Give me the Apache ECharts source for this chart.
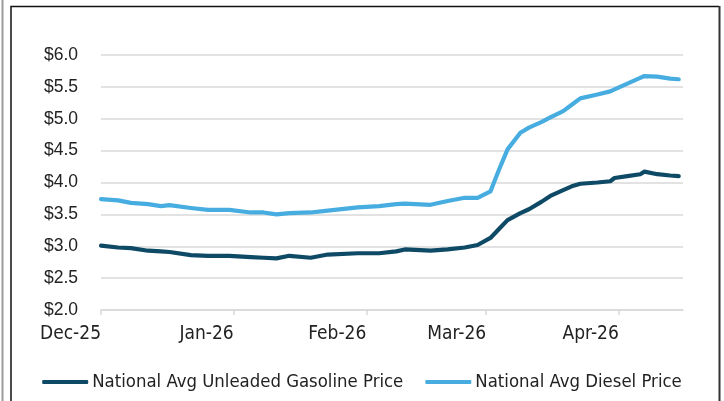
<!DOCTYPE html>
<html>
<head>
<meta charset="utf-8">
<script src="https://cdn.jsdelivr.net/npm/echarts@6/dist/echarts.min.js"></script>
<style>html,body{margin:0;padding:0;background:#fff;}#c{width:724px;height:401px;}</style>
</head>
<body>
<div id="c"></div>
<script>
const dates = ['2025-12-01','2025-12-05','2025-12-08','2025-12-12','2025-12-15','2025-12-17','2025-12-22','2025-12-26','2025-12-31',
  '2026-01-05','2026-01-08','2026-01-11','2026-01-14','2026-01-19','2026-01-23','2026-01-30',
  '2026-02-04','2026-02-08','2026-02-10','2026-02-16','2026-02-20','2026-02-24','2026-02-27',
  '2026-03-02','2026-03-04','2026-03-06','2026-03-09','2026-03-11','2026-03-14','2026-03-16','2026-03-19','2026-03-21','2026-03-23','2026-03-27','2026-03-30','2026-03-31',
  '2026-04-03','2026-04-06','2026-04-07','2026-04-10','2026-04-13','2026-04-15'];
const gasoline = [3.01,2.98,2.97,2.93,2.92,2.91,2.86,2.85,2.85,
  2.83,2.82,2.81,2.85,2.82,2.87,2.89,
  2.89,2.92,2.95,2.93,2.95,2.98,3.02,
  3.13,3.27,3.41,3.52,3.58,3.70,3.79,3.88,3.94,3.98,4.00,4.02,4.07,
  4.10,4.13,4.17,4.13,4.11,4.10];
const diesel = [3.74,3.72,3.68,3.66,3.63,3.645,3.60,3.57,3.57,
  3.53,3.53,3.50,3.52,3.53,3.56,3.61,
  3.63,3.66,3.67,3.65,3.71,3.76,3.76,
  3.86,4.20,4.52,4.78,4.86,4.95,5.02,5.12,5.22,5.32,5.38,5.43,5.46,
  5.55,5.64,5.67,5.66,5.63,5.62];
const monthTicks = ['2025-12-01','2026-01-01','2026-02-01','2026-03-01','2026-04-01'];
const monthLabels = ['Dec-25','Jan-26','Feb-26','Mar-26','Apr-26'];
const seriesNames = ['National Avg Unleaded Gasoline Price','National Avg Diesel Price'];

const DAY = 86400000;
const ts = s => { const p = s.split('-').map(Number); return Date.UTC(p[0], p[1]-1, p[2]); };
const base = ts('2025-12-01');
const dayOf = s => Math.round((ts(s) - base) / DAY);
const tickDays = monthTicks.map(dayOf);
const narrow = '"Liberation Sans Narrow","DejaVu Sans Condensed",sans-serif';

const chart = echarts.init(document.getElementById('c'), null, {renderer:'canvas'});
chart.setOption({
  animation: false,
  grid: {left: 101, right: 41, top: 55, bottom: 91, containLabel: false},
  xAxis: {
    type: 'value',
    min: 0,
    max: dayOf('2026-04-16'),
    axisLine: {show: true, lineStyle: {color: '#D9D9D9', width: 1.5}},
    axisTick: {show: true, length: 5, lineStyle: {color: '#D9D9D9', width: 1.5}, customValues: tickDays},
    splitLine: {show: false},
    axisLabel: {
      customValues: tickDays,
      align: 'right',
      margin: 15,
      color: '#222',
      fontFamily: narrow,
      fontSize: 19,
      formatter: v => { const i = tickDays.indexOf(Math.round(v)); return i >= 0 ? monthLabels[i] : ''; }
    }
  },
  yAxis: {
    type: 'value',
    min: 2, max: 6, interval: 0.5,
    axisLine: {show: false},
    axisTick: {show: false},
    splitLine: {lineStyle: {color: '#D9D9D9', width: 1.5}},
    axisLabel: {margin: 23, color: '#222', fontFamily: '"Liberation Sans",Arial,sans-serif', fontSize: 17.5,
      formatter: v => '$' + v.toFixed(1)}
  },
  legend: {
    top: 368, left: 'center',
    itemWidth: 46, itemHeight: 4, itemGap: 22,
    icon: 'roundRect',
    textStyle: {fontFamily: narrow, fontSize: 18.4, color: '#222', padding: [0, 0, 0, -1]},
    data: seriesNames
  },
  series: [
    {name: seriesNames[0], type: 'line', showSymbol: false, smooth: false, color: '#0E4A66',
      lineStyle: {width: 4.2, color: '#0E4A66', cap: 'round', join: 'round'},
      data: dates.map((d,i) => [dayOf(d), gasoline[i]])},
    {name: seriesNames[1], type: 'line', showSymbol: false, smooth: false, color: '#47ADE0',
      lineStyle: {width: 4.2, color: '#47ADE0', cap: 'round', join: 'round'},
      data: dates.map((d,i) => [dayOf(d), diesel[i]])}
  ],
  graphic: [
    {type: 'line', shape: {x1: 2.5, y1: 0, x2: 2.5, y2: 401}, style: {stroke: '#9A9A9A', lineWidth: 2}, silent: true},
    {type: 'polyline', shape: {points: [[11, 401], [11, 6.5], [719, 6.5]]}, style: {stroke: '#111', lineWidth: 1.5, fill: null}, silent: true},
    {type: 'line', shape: {x1: 719.5, y1: 6, x2: 719.5, y2: 401}, style: {stroke: '#333', lineWidth: 2}, silent: true}
  ]
});
</script>
</body>
</html>
